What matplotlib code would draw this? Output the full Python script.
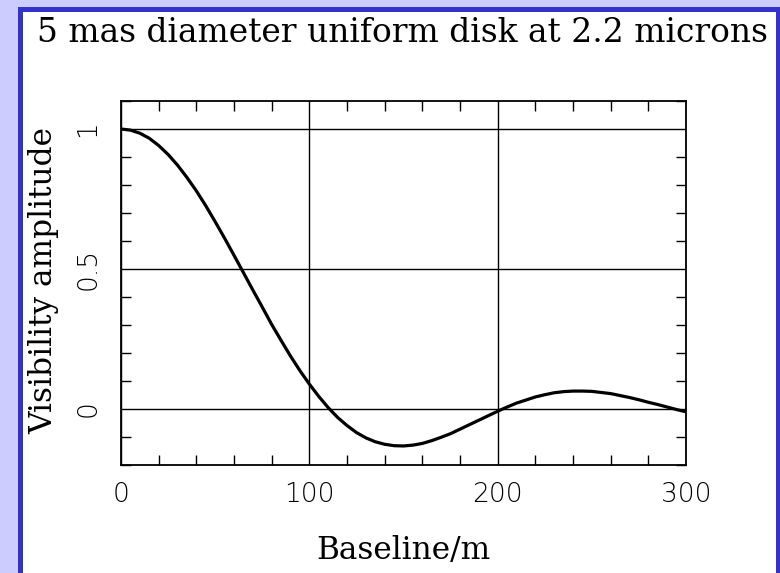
import matplotlib
matplotlib.use("Agg")
import matplotlib.pyplot as plt
from matplotlib.patches import Rectangle
from matplotlib.ticker import MultipleLocator

# Data (baseline in m, every 5 m)
baseline_m = [0, 5, 10, 15, 20, 25, 30, 35, 40, 45, 50, 55, 60, 65, 70, 75,
              80, 85, 90, 95, 100, 105, 110, 115, 120, 125, 130, 135, 140,
              145, 150, 155, 160, 165, 170, 175, 180, 185, 190, 195, 200,
              205, 210, 215, 220, 225, 230, 235, 240, 245, 250, 255, 260,
              265, 270, 275, 280, 285, 290, 295, 300]
visibility = [1.000, 0.996, 0.985, 0.967, 0.941, 0.909, 0.871, 0.827, 0.779,
              0.726, 0.669, 0.610, 0.549, 0.487, 0.425, 0.364, 0.302, 0.245,
              0.189, 0.137, 0.089, 0.045, 0.005, -0.030, -0.059, -0.084,
              -0.103, -0.117, -0.126, -0.131, -0.132, -0.129, -0.123, -0.113,
              -0.101, -0.088, -0.072, -0.056, -0.040, -0.024, -0.008, 0.007,
              0.021, 0.032, 0.043, 0.051, 0.058, 0.062, 0.064, 0.064, 0.063,
              0.059, 0.055, 0.048, 0.041, 0.033, 0.024, 0.016, 0.007, -0.002,
              -0.010]
x_ticks = [0, 100, 200, 300]
x_tick_labels = ["0", "100", "200", "300"]
y_ticks = [0, 0.5, 1]
y_tick_labels = ["0", "0.5", "1"]
title_text = "5 mas diameter uniform disk at 2.2 microns"
x_label = "Baseline/m"
y_label = "Visibility amplitude"

W, H = 780, 573
fig = plt.figure(figsize=(W / 100, H / 100), dpi=100, facecolor="#ccccff")

# white panel with blue border
fig.patches.append(Rectangle((19.5 / W, -0.1), (777.5 - 19.5) / W, 1 - 9.5 / H + 0.1,
                             transform=fig.transFigure, facecolor="white",
                             edgecolor="#3333cc", linewidth=3.6, zorder=-5))

ax = fig.add_axes([121 / W, 1 - 465 / H, (686 - 121) / W, (465 - 101) / H])
ax.set_zorder(2)
ax.set_facecolor("none")
ax.plot(baseline_m, visibility, color="black", linewidth=2.3, zorder=3,
        solid_joinstyle="round")
ax.set_xlim(0, 300)
ax.set_ylim(-0.2, 1.1)

ax.set_xticks(x_ticks)
ax.set_xticklabels(x_tick_labels)
ax.set_yticks(y_ticks)
ax.set_yticklabels(y_tick_labels, rotation=90, va="center")
ax.xaxis.set_minor_locator(MultipleLocator(20))
ax.yaxis.set_minor_locator(MultipleLocator(0.1))
ax.tick_params(which="both", direction="in", top=True, right=True, color="black")
ax.tick_params(which="major", length=0, labelsize=19)
ax.tick_params(axis="x", which="major", pad=12)
ax.tick_params(axis="y", which="major", pad=15)
ax.tick_params(which="minor", length=7, width=1)
for lab in ax.get_xticklabels() + ax.get_yticklabels():
    lab.set_fontweight("light")
    lab.set_family("DejaVu Sans")
ax.grid(True, which="major", color="black", linewidth=1)
for s in ax.spines.values():
    s.set_linewidth(1.3)

fig.text(37 / W, 1 - 42 / H, title_text, family="DejaVu Serif", fontsize=23.7,
         ha="left", va="baseline")
fig.text(403 / W, 1 - 551 / H, x_label, family="DejaVu Serif", fontsize=22.5,
         ha="center", va="center")
fig.text(44 / W, 1 - 281 / H, y_label, family="DejaVu Serif", fontsize=22.5,
         ha="center", va="center", rotation=90)

fig.savefig("out.png", dpi=100, facecolor=fig.get_facecolor())
